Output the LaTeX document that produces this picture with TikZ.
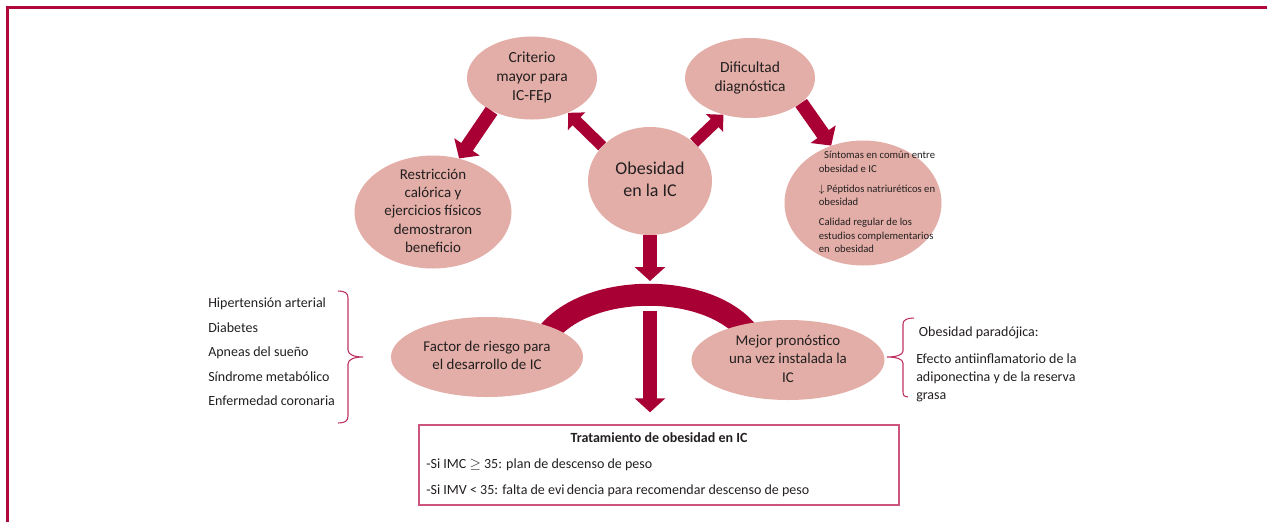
\documentclass[tikz,border=0pt]{standalone}
\usepackage{fontspec}
\setmainfont{Carlito}
\usetikzlibrary{shapes.geometric,arrows.meta,calc}
\definecolor{arrowred}{RGB}{168,0,52}
\definecolor{framered}{RGB}{176,8,58}
\definecolor{ellfill}{RGB}{227,174,167}
\definecolor{bracered}{RGB}{190,50,95}
\definecolor{boxpink}{RGB}{205,85,125}
\definecolor{txt}{RGB}{35,31,32}
\newcommand{\inell}[2][@{}c@{}]{\smash{\raisebox{-0.25em}{\makebox[0pt]{\begin{tabular}{#1}#2\end{tabular}}}}}
\begin{document}
\begin{tikzpicture}[x=0.75pt,y=-0.75pt,
  ell/.style={ellipse, fill=ellfill, inner sep=0pt, text=txt},
  bigarrow/.style={draw=arrowred, line width=10.5pt, -{Triangle[width=22.5pt,length=10.5pt]}},
  smallarrow/.style={draw=arrowred, line width=8.5pt, -{Triangle[width=18pt,length=9pt]}},
  bracket/.style={draw=bracered, line width=0.8pt},
  plain/.style={text=txt, inner sep=0pt}]
\useasboundingbox (0,0) rectangle (1267,522);
\draw[framered, line width=2.25pt] (7.5,522) -- (7.5,7.5) -- (1267,7.5);

% arch behind the lower ellipses
\coordinate (archL) at (543,340);
\coordinate (archR) at (752,338);
\coordinate (archtop) at (650,281);
\coordinate (archbot) at (650,311);
\draw[arrowred, line width=16.5pt] (archL) .. controls (580,280) and (715,280) .. (archR);

% ellipses
\node[ell, minimum width=97.5pt, minimum height=62.25pt, font=\fontsize{11.6}{14.3}\selectfont] (crit) at (532,78)
  {\inell{Criterio\\ mayor para\\ IC-FEp}};
\node[ell, minimum width=97.5pt, minimum height=60pt, font=\fontsize{11.6}{14.3}\selectfont] (dif) at (750,78)
  {\inell{Dificultad\\ diagnóstica}};
\node[ell, minimum width=93pt, minimum height=81pt, font=\fontsize{13.5}{16.5}\selectfont] (obes) at (650,181)
  {\inell{Obesidad\\ en la IC}};
\node[ell, minimum width=117.75pt, minimum height=84.75pt, font=\fontsize{11.2}{13.7}\selectfont] (restr) at (433,212)
  {\inell{Restricción\\ calórica y\\ ejercicios físicos\\ demostraron\\ beneficio}};
\node[ell, minimum width=117.75pt, minimum height=93.75pt, font=\fontsize{8}{10.1}\selectfont] (sint) at (863,203)
  {\inell[@{\hspace{21pt}}l@{}]{\hspace*{4pt}Síntomas en común entre\\ obesidad e IC\\[5pt] $\downarrow$ Péptidos natriuréticos en\\ obesidad\\[5pt] Calidad regular de los\\ estudios complementarios\\ en\ \ obesidad}};
\node[ell, minimum width=144pt, minimum height=60pt, font=\fontsize{11.2}{13.6}\selectfont] (fac) at (487,357)
  {\inell{Factor de riesgo para\\ el desarrollo de IC}};
\node[ell, minimum width=144.75pt, minimum height=60pt, font=\fontsize{11.2}{13.8}\selectfont] (mej) at (788,360)
  {\inell{Mejor pronóstico\\ una vez instalada la\\ IC}};

% treatment box
\node[draw=boxpink, line width=1.1pt, text=txt, inner xsep=5.25pt, minimum width=360pt, minimum height=60pt,
      align=left, font=\fontsize{10.5}{19.5}\selectfont] (box) at (659,465)
  {\makebox[349pt][c]{\bfseries Tratamiento de obesidad en IC}\\
   \makebox[349pt][l]{-Si IMC $\geq$ 35: plan de descenso de peso}\\
   -Si IMV < 35: falta de evi\,dencia para recomendar descenso de peso};

% side texts
\node[plain, anchor=west, align=left, font=\fontsize{10.5}{18.4}\selectfont] (risk) at (208,352)
  {Hipertensión arterial\\ Diabetes\\ Apneas del sueño\\ Síndrome metabólico\\ Enfermedad coronaria};
\node[plain, anchor=north west, align=left, font=\fontsize{10.5}{13.7}\selectfont] (parad) at (916,327)
  {\hspace*{2pt}Obesidad paradójica:\\[6pt] Efecto antiinflamatorio de la\\ adiponectina y de la reserva\\ grasa};

% braces
\draw[bracket] (338,291) .. controls (345,291) and (348,293) .. (348,298) -- (348,350)
  .. controls (348,355) and (355,357) .. (363,357) .. controls (355,357) and (348,359) .. (348,364)
  -- (348,416) .. controls (348,421) and (345,423) .. (338,423);
\draw[bracket] (914,318) .. controls (907,318) and (903,320) .. (903,324) -- (903,351)
  .. controls (903,355) and (896,357) .. (887,357) .. controls (896,357) and (903,359) .. (903,363)
  -- (903,392) .. controls (903,396) and (905,397) .. (908,397);

% arrows
\draw[bigarrow] (crit.219) -- (restr.64);
\draw[smallarrow] (obes.144) -- (crit.316);
\draw[smallarrow] (obes.41) -- (dif.234);
\draw[bigarrow] (dif.334) -- (sint.119);
\draw[bigarrow] (obes.south) -- (archtop);
\draw[bigarrow, shorten >=9pt] (archbot) -- (archbot |- box.north);
\end{tikzpicture}
\end{document}
